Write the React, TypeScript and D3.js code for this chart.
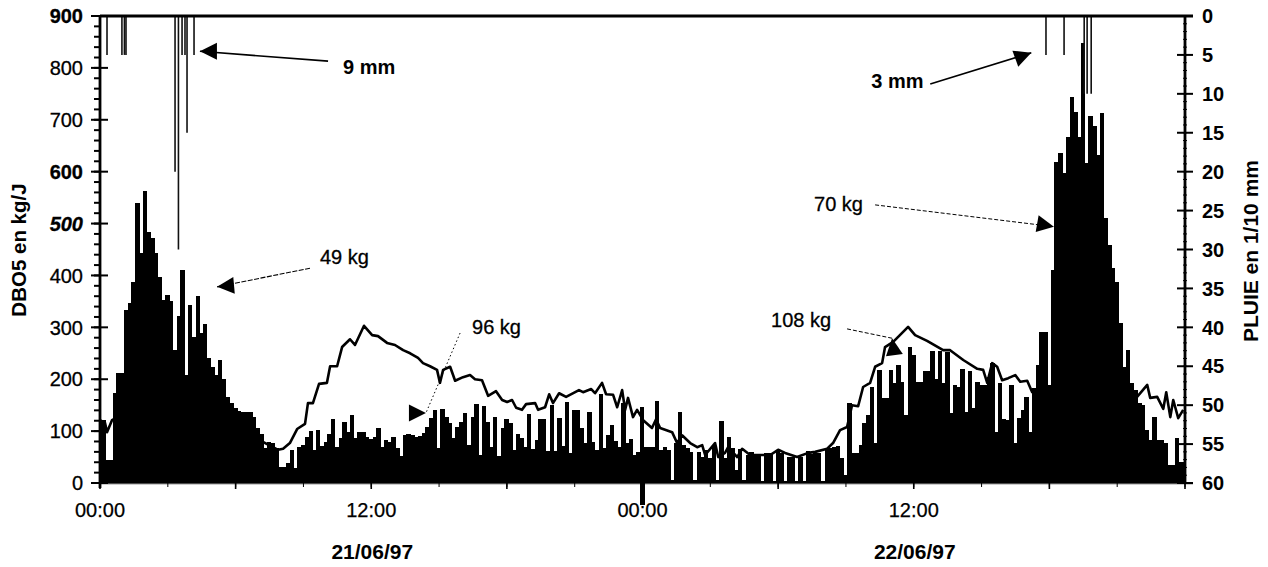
import React from "react";
import * as d3 from "d3";

// DBO5 load in kg/J, one bar every 10 minutes over 48 hours
const dboPart1 = [
  121, 44, 44, 173, 212, 212, 333, 347, 387, 540, 443, 562, 483, 472, 443, 397, 353, 362, 351, 256,
  322, 410, 208, 343, 281, 360, 289, 306, 241, 224, 208, 237, 200, 166, 154, 144, 139, 137, 137, 137,
  127, 106, 94, 67, 79, 77, 67, 31, 31, 39, 64, 29, 69, 73, 89, 100, 64, 102,
];
const dboPart2 = [
  71, 79, 94, 123, 69, 87, 118, 98, 131, 87, 98, 98, 89, 85, 89, 106, 69, 83, 79, 89, 67, 52, 92, 94, 92,
  89, 91, 96, 108, 125, 141, 67, 143, 127, 116, 87, 108, 118, 135, 73, 127, 152, 54, 148, 118, 69, 127, 52, 106, 123,
];
const dboPart3 = [
  116, 64, 94, 87, 69, 133, 65, 83, 123, 123, 62, 150, 62, 125, 71, 156, 58, 141, 141, 106, 77, 137, 79, 64, 171,
  67, 92, 112, 81, 69, 154, 77, 85, 54, 60, 146, 69, 69, 69, 158, 64, 69, 64, 6, 77, 137, 73, 67, 60, 6, 60, 50, 64, 48, 73, 6,
];
const dboPart4 = [
  119, 48, 89, 67, 25, 65, 6, 54, 60, 54, 54, 4, 58, 58, 4, 64, 58, 4, 50, 50, 4, 50, 4, 62, 56, 58, 58, 4,
  67, 67, 69, 71, 48, 15, 154, 58, 58, 73, 116, 131, 185, 77,
];
const dboPart5 = [
  218, 164, 164, 218, 193, 227, 195, 131, 262, 247, 195, 195, 216, 216, 254, 200, 254, 193, 252, 135, 189, 185, 220, 137, 216, 145,
  195, 189, 189, 204, 231, 98, 193, 123, 121, 189, 77, 125, 141, 166, 98, 183, 227, 291, 291, 189,
];
const dboPart6 = [
  410, 618, 636, 597, 667, 744, 715, 667, 848, 617, 707, 688, 632, 713, 511, 459, 414, 387, 308, 224, 256, 193,
  179, 154, 150, 102, 83, 127, 83, 83, 77, 35, 35, 87, 40, 40,
];
const dboBars = [...dboPart1, ...dboPart2, ...dboPart3, ...dboPart4, ...dboPart5, ...dboPart6];

// Continuous curve: hour since start, load in kg/J
const lineHours = [
  0, .22, .31, .53, 2.2, 6.2, 7.88, 8.1, 8.4, 8.72, 9.07, 9.2, 9.42, 9.69, 10.04, 10.18, 10.49, 10.71, 11.06, 11.28, 11.68,
  12.04, 12.3, 12.7, 13.05, 13.41, 13.72, 14.07, 14.29, 14.6, 14.91, 15.04, 15.18, 15.49, 15.71, 16.06, 16.37, 16.59, 16.9,
  17.17, 17.52, 17.79, 18.01, 18.23, 18.41, 18.67, 18.85, 19.25, 19.38, 19.69, 19.87, 20.04, 20.31, 20.62, 21.19, 21.37, 21.73,
  21.9, 22.21, 22.39, 22.7, 22.88, 23.1, 23.23, 23.36, 23.58, 23.76, 24.03, 24.42, 24.6, 24.78, 25.31, 25.53, 25.75, 26.11,
  26.42, 26.64, 26.77, 27.21, 27.35, 27.65, 27.79, 28.19, 28.41, 28.76, 29.2, 29.65, 30, 30.31, 30.84, 31.33, 31.64, 32.17,
  32.43, 32.74, 33.05, 33.27, 33.54, 33.76, 34.07, 34.29, 34.6, 34.73, 35.09, 35.75, 36.06, 36.59, 37.3, 37.61, 38.19, 38.81,
  39.07, 39.25, 39.47, 39.69, 39.91, 40.18, 40.49, 40.71, 41.02, 41.24, 42.5, 45.1, 45.88, 46.33, 46.46, 46.77, 47.04, 47.17,
  47.35, 47.48, 47.7, 47.92,
];
const lineValues = [
  121, 116, 98, 121, 160, 102, 64, 66, 77, 104, 114, 154, 154, 191, 193, 225, 225, 262, 277, 266, 303,
  285, 283, 270, 266, 256, 250, 241, 231, 225, 218, 193, 218, 224, 197, 204, 208, 200, 198,
  168, 177, 160, 156, 160, 145, 141, 152, 154, 141, 146, 171, 154, 173, 166, 179, 175, 181,
  173, 193, 171, 170, 146, 179, 141, 164, 127, 141, 121, 106, 123, 106, 98, 77, 92, 77,
  69, 73, 54, 77, 50, 58, 69, 50, 66, 54, 54, 54, 64, 58, 50, 58, 60, 66,
  77, 102, 108, 150, 148, 185, 193, 224, 231, 262, 272, 301, 285, 274, 256, 256, 237, 220,
  218, 193, 231, 224, 198, 202, 208, 195, 197, 175, 170, 179, 166, 189, 164, 166, 143, 175,
  127, 160, 125, 141,
];

// Rain, hanging from the top edge: hour, depth in 1/10 mm
const rainHours = [.31, .97, 1.08, 1.15, 3.32, 3.47, 3.63, 3.76, 3.85, 4.16, 41.85, 42.65, 43.54, 43.67, 43.85];
const rainDepth = [5, 5, 5, 5, 20, 30, 5, 5, 15, 5, 5, 5, 10, 10, 10];

const leftTicks = [0, 100, 200, 300, 400, 500, 600, 700, 800, 900];
const boldLeft = [600, 900];
const rightTicks = [0, 5, 10, 15, 20, 25, 30, 35, 40, 45, 50, 55, 60];
const xLabelHours = [0, 12, 24, 36];
const xLabels = ["00:00", "12:00", "00:00", "12:00"];
const dateHours = [12, 36];
const dateLabels = ["21/06/97", "22/06/97"];

// Annotations in data units; angle and dash describe the arrow
const noteText = ["9 mm", "3 mm", "49 kg", "96 kg", "70 kg", "108 kg"];
const noteBold = [true, true, false, false, false, false];
const noteHour = [10.75, 34.12, 9.73, 16.46, 31.59, 29.69];
const noteValue = [803, 776, 435, 301, 539, 314];
const fromHour = [10.09, 36.73, 9.29, 15.93, 34.29, 33.05];
const fromValue = [813, 769, 414, 289, 536, 297];
const tipHour = [4.42, 41.2, 5.18, 14.42, 42.2, 35.04];
const tipValue = [832, 829, 378, 135, 494, 279];
const headAngle = [180, -20, 175, 0, 10, -98];
const noteDash = ["", "", "5 1.5", "1.5 2.5", "4 2", "4 2"];
const noteWidth = [1.6, 1.6, 1.1, 1, 1, 1];

const FONT = '"Liberation Sans", Arial, sans-serif';
const SIZE = 20;

export default function App() {
  const x = d3.scaleLinear().domain([0, 48]).range([100, 1185]);
  const y = d3.scaleLinear().domain([0, 900]).range([483, 16]);
  const rain = d3.scaleLinear().domain([0, 60]).range([16, 483]);
  const line = d3.line<number>().x((h) => x(h)).y((_, i) => y(lineValues[i]));
  const step = x(1 / 6) - x(0);
  const minor = d3.range(0, 901, 20);
  const rainMinor = d3.range(0, 61, 1);
  const xTicks = d3.range(0, 49, 6);
  const xSmall = d3.range(0, 49, 3);

  return (
    <svg width={1268} height={567} style={{ position: "fixed", left: 0, top: 0, background: "#fff" }} fontFamily={FONT}>
      <defs>
        <clipPath id="plot"><rect x={x(0)} y={y(900)} width={x(48) - x(0)} height={y(0) - y(900) + 1} /></clipPath>
      </defs>

      <g clipPath="url(#plot)">
        <g shapeRendering="crispEdges">
          {dboBars.map((v, i) => (
            <rect key={i} x={x((i + 0.35) / 6)} y={y(v)} width={step + 0.6} height={y(0) - y(v) + 1} fill="#000" />
          ))}
        </g>
        <path d={line(lineHours) || ""} fill="none" stroke="#000" strokeWidth={2.6} strokeLinejoin="round" />
        {rainHours.map((h, i) => (
          <line key={i} x1={x(h)} x2={x(h)} y1={rain(0)} y2={rain(rainDepth[i])} stroke="#111" strokeWidth={1.6} />
        ))}
      </g>

      {/* frame */}
      <line x1={x(0)} x2={x(48) + 8} y1={y(900)} y2={y(900)} stroke="#000" strokeWidth={3} />
      <line x1={x(0)} x2={x(48) + 8} y1={y(0) + 1} y2={y(0) + 1} stroke="#999" strokeWidth={1} />
      <line x1={x(0)} x2={x(0)} y1={y(900)} y2={y(0) + 5} stroke="#000" strokeWidth={2.8} />
      <line x1={x(48)} x2={x(48)} y1={y(900)} y2={y(0)} stroke="#000" strokeWidth={2.8} />

      {/* left axis */}
      {minor.map((v) => (
        <line key={v} x1={x(0) - 6} x2={x(0)} y1={y(v)} y2={y(v)} stroke="#000" strokeWidth={2} />
      ))}
      {leftTicks.map((v) => (
        <g key={v}>
          <line x1={x(0) - 9} x2={x(0) + 8} y1={y(v)} y2={y(v)} stroke="#000" strokeWidth={2} />
          <text
            x={83}
            y={y(v)}
            dy="0.36em"
            textAnchor="end"
            fontSize={SIZE}
            fontWeight={boldLeft.includes(v) || v === 500 ? 700 : 400}
            fontStyle={v === 500 ? "italic" : "normal"}
            stroke="#000"
            strokeWidth={0.3}
          >
            {v}
          </text>
        </g>
      ))}
      <text transform={`translate(26,${y(449)}) rotate(-90)`} textAnchor="middle" fontSize={20.5} fontWeight={700}>
        DBO5 en kg/J
      </text>

      {/* right axis */}
      {rainMinor.map((v) => (
        <line key={v} x1={x(48) - 2} x2={x(48) + 2} y1={rain(v)} y2={rain(v)} stroke="#000" strokeWidth={1} />
      ))}
      {rightTicks.map((v) => (
        <g key={v}>
          <line x1={x(48) - 8} x2={x(48) + 8} y1={rain(v)} y2={rain(v)} stroke="#000" strokeWidth={2} />
          <text x={1202} y={rain(v)} dy="0.36em" fontSize={SIZE} fontWeight={700}>{v}</text>
        </g>
      ))}
      <text transform={`translate(1258,${rain(30.2)}) rotate(-90)`} textAnchor="middle" fontSize={21} fontWeight={700}>
        PLUIE en 1/10 mm
      </text>

      {/* bottom axis */}
      {xSmall.map((h) => (
        <line key={h} x1={x(h)} x2={x(h)} y1={y(0)} y2={y(0) + 4} stroke="#000" strokeWidth={1} />
      ))}
      {xTicks.map((h) => (
        <line key={h} x1={x(h)} x2={x(h)} y1={y(0)} y2={y(0) + 6} stroke="#000" strokeWidth={1.6} />
      ))}
      <line x1={x(24)} x2={x(24)} y1={y(0)} y2={y(0) + 22} stroke="#000" strokeWidth={5} />
      {xLabelHours.map((h, i) => (
        <text key={i} x={x(h)} y={517} textAnchor="middle" fontSize={SIZE} stroke="#000" strokeWidth={0.25}>{xLabels[i]}</text>
      ))}
      {dateHours.map((h, i) => (
        <text key={i} x={x(h) + 1} y={559} textAnchor="middle" fontSize={21} fontWeight={700}>{dateLabels[i]}</text>
      ))}

      {/* annotations */}
      {noteText.map((t, i) => {
        const tx = x(tipHour[i]);
        const ty = y(tipValue[i]);
        const head = d3.line()([[17, 0], [0, -8.5], [0, 8.5], [17, 0]]) || "";
        return (
          <g key={t}>
            <text x={x(noteHour[i])} y={y(noteValue[i])} dy="0.36em" fontSize={SIZE} fontWeight={noteBold[i] ? 700 : 400} stroke="#000" strokeWidth={noteBold[i] ? 0 : 0.3}>
              {t}
            </text>
            <line x1={x(fromHour[i])} y1={y(fromValue[i])} x2={tx} y2={ty} stroke="#000" strokeWidth={noteWidth[i]} strokeDasharray={noteDash[i]} />
            <path d={head} transform={`translate(${tx},${ty}) rotate(${headAngle[i]}) translate(-17,0)`} fill="#000" />
          </g>
        );
      })}
    </svg>
  );
}
